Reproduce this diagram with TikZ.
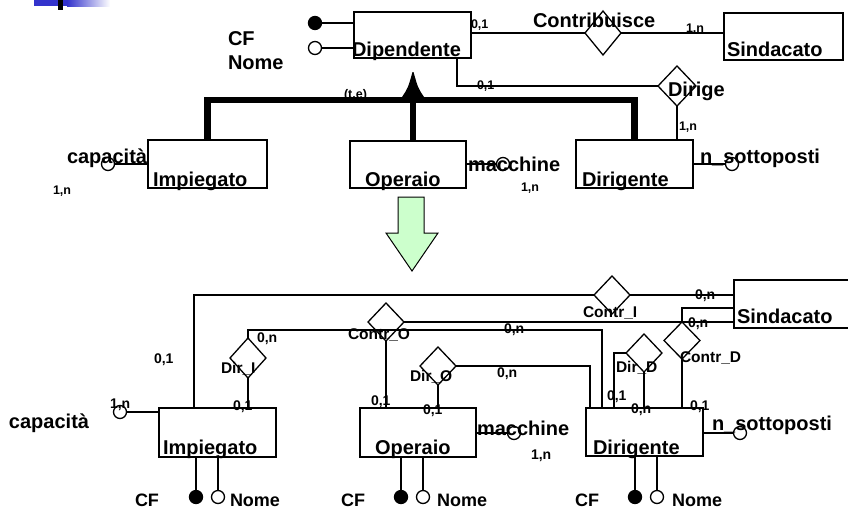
\documentclass[tikz,border=0pt]{standalone}
\usepackage{fontspec}
\setmainfont{Liberation Sans}
\usetikzlibrary{shapes.geometric,calc}
\definecolor{barblue}{RGB}{51,51,204}
\definecolor{arrowgreen}{RGB}{204,255,204}
\begin{document}
\begin{tikzpicture}[x=1pt,y=-1pt,line width=1.3pt,
  entity/.style={draw,rectangle,inner sep=0pt,outer sep=0pt},
  rel/.style={draw,diamond,inner sep=0pt,outer sep=0pt},
  keyattr/.style={draw,fill=black,circle,minimum size=13pt,inner sep=0pt,outer sep=0pt},
  attr/.style={draw,fill=white,circle,minimum size=13pt,inner sep=0pt,outer sep=0pt},
  lbl/.style={inner sep=0pt,outer sep=0pt,anchor=base west,font=\fontsize{20}{24}\selectfont\bfseries},
  idlbl/.style={lbl,font=\fontsize{18}{22}\selectfont\bfseries},
  rlbl/.style={lbl,font=\fontsize{15.5}{18}\selectfont\bfseries},
  card/.style={lbl,font=\fontsize{12.5}{15}\selectfont\bfseries},
  cardB/.style={lbl,font=\fontsize{14}{16}\selectfont\bfseries},
  isa/.style={line width=6.5pt,line join=miter}]
\useasboundingbox (0,0) rectangle (848,509);

% title bar ornament
\fill[barblue] (34,0) rectangle (67,6);
\shade[left color=barblue,right color=white] (67,0) rectangle (110,6);
\fill[black] (58,0) rectangle (63,10);

% ---------------- schema with generalization ----------------
\node[entity,minimum width=117pt,minimum height=46pt] (dipT) at (412.5,35) {};
\node[entity,minimum width=119pt,minimum height=47pt] (sinT) at (783.5,36.5) {};
\node[entity,minimum width=119pt,minimum height=48pt] (impT) at (207.5,164) {};
\node[entity,minimum width=116pt,minimum height=47pt] (opT) at (408,164.5) {};
\node[entity,minimum width=117pt,minimum height=48pt] (dirT) at (634.5,164) {};

\node[rel,minimum width=36pt,minimum height=44pt] (contr) at (603,33) {};
\node[rel,minimum width=38pt,minimum height=40pt] (dirige) at (677,86) {};

\node[keyattr] (kCF) at (315,23) {};
\node[attr] (aNome) at (315,48) {};
\node[attr] (aCapT) at (108,164) {};
\node[attr] (aMacT) at (503,164) {};
\node[attr] (aSotT) at (732,164) {};

\draw (kCF.east) -- (kCF.east -| dipT.west);
\draw (aNome.east) -- (aNome.east -| dipT.west);
\draw (aCapT.east) -- (aCapT.east -| impT.west);
\draw (aMacT.west) -- (aMacT.west -| opT.east);
\draw (aSotT.west) -- (aSotT.west -| dirT.east);

\draw (contr.west -| dipT.east) -- (contr.west);
\draw (contr.east) -- (contr.east -| sinT.west);
\draw ($(dipT.south west)+(103,0)$) |- (dirige.west);
\draw (dirige.south) -- (dirige.south |- dirT.north);

\node[card] (te) at (344,98) {(t,e)};

% generalization (total, exclusive)
\coordinate (hub) at (413,100);
\draw[isa] (impT.north) |- (hub) -| (dirT.north);
\draw[isa] ($(opT.north)+(5,0)$) -- (hub) -- ++(0,-4);
\fill ($(hub)+(-11,-3)$) .. controls ($(hub)+(-5,-12)$) .. ($(hub)+(-0.5,-28)$)
  -- ($(hub)+(0.5,-28)$) .. controls ($(hub)+(5,-12)$) .. ($(hub)+(11,-3)$) -- cycle;

\node[lbl] (tDip) at (352,56) {Dipendente};
\node[lbl] (tCF) at (228,45) {CF};
\node[lbl] (tNome) at (228,69) {Nome};
\node[card] (c1) at (471,28) {0,1};
\node[lbl] (tContr) at (533,27.5) {Contribuisce};
\node[card] (c2) at (686,32) {1,n};
\node[lbl] (tSin) at (727,56) {Sindacato};
\node[card] (c3) at (477,89) {0,1};
\node[lbl] (tDirige) at (668,96) {Dirige};
\node[card] (c4) at (679,130) {1,n};
\node[lbl] (tImp) at (153,186) {Impiegato};
\node[lbl] (tCap) at (67,163) {capacità};
\node[card] (c5) at (53,194) {1,n};
\node[lbl] (tOp) at (365,186) {Operaio};
\node[lbl] (tMac) at (468,171) {macchine};
\node[card] (c6) at (521,191) {1,n};
\node[lbl] (tDir) at (582,186) {Dirigente};
\node[lbl] (tSot) at (700,163) {n\_sottoposti};

% transformation arrow
\draw[fill=arrowgreen,line width=1pt] (398,197) -- (424,197) -- (424,233) -- (438,233)
  -- (412,271) -- (386,233) -- (398,233) -- cycle;

% ---------------- restructured schema ----------------
\node[entity,minimum width=117pt,minimum height=49pt] (impB) at (217.5,432.5) {};
\node[entity,minimum width=116pt,minimum height=49pt] (opB) at (418,432.5) {};
\node[entity,minimum width=117pt,minimum height=48pt] (dirB) at (644.5,432) {};
\node[entity,minimum width=126pt,minimum height=48pt] (sinB) at (797,304) {};

\node[rel,minimum width=36pt,minimum height=38pt] (ctrI) at (612,295) {};
\node[rel,minimum width=36pt,minimum height=40pt] (dirI) at (248,358) {};
\node[rel,minimum width=36pt,minimum height=38pt] (ctrO) at (386,322) {};
\node[rel,minimum width=36pt,minimum height=38pt] (dirO) at (438,366) {};
\node[rel,minimum width=36pt,minimum height=38pt] (dirD) at (644,353) {};
\node[rel,minimum width=36pt,minimum height=37pt] (ctrD) at (682,340.5) {};

% Contr_I
\draw ($(impB.north west)+(35,0)$) |- (ctrI.west);
\draw (ctrI.east) -- (ctrI.east -| sinB.west);
% Dir_I
\draw (dirI.south) -- (dirI.south |- impB.north);
\draw (dirI.north) -- ++(0,-8) -| ($(dirB.north west)+(16,0)$);
% Contr_O
\draw (ctrO.south) -- (ctrO.south |- opB.north);
\draw (ctrO.east) -- (ctrO.east -| sinB.west);
% Dir_O
\draw (dirO.south) -- (dirO.south |- opB.north);
\draw (dirO.east) -| ($(dirB.north west)+(4,0)$);
% Dir_D
\draw (dirD.west) -| ($(dirB.north west)+(28,0)$);
\draw (dirD.south) -- (dirD.south |- dirB.north);
% Contr_D
\draw (ctrD.north) |- ($(sinB.west)+(0,4)$);
\draw (ctrD.south) -- (ctrD.south |- dirB.north);

% attributes
\node[attr] (aCapB) at (120,412) {};
\node[attr] (aMacB) at (514,433) {};
\node[attr] (aSotB) at (740,433) {};
\draw (aCapB.east) -- (aCapB.east -| impB.west);
\draw (aMacB.west) -- (aMacB.west -| opB.east);
\draw (aSotB.west) -- (aSotB.west -| dirB.east);

\node[keyattr] (kI) at (196,497) {};
\node[attr] (nI) at (218,497) {};
\node[keyattr] (kO) at (401,497) {};
\node[attr] (nO) at (423,497) {};
\node[keyattr] (kD) at (635,497) {};
\node[attr] (nD) at (657,497) {};
\draw (kI.north) -- (kI.north |- impB.south);
\draw (nI.north) -- (nI.north |- impB.south);
\draw (kO.north) -- (kO.north |- opB.south);
\draw (nO.north) -- (nO.north |- opB.south);
\draw (kD.north) -- (kD.north |- dirB.south);
\draw (nD.north) -- (nD.north |- dirB.south);

% labels
\node[lbl] (bImp) at (163,454) {Impiegato};
\node[lbl] (bOp) at (375,454) {Operaio};
\node[lbl] (bDir) at (593,454) {Dirigente};
\node[lbl] (bSin) at (737,323) {Sindacato};
\node[lbl] (bCap) at (9,428) {capacità};
\node[lbl] (bMac) at (477,435) {macchine};
\node[lbl] (bSot) at (712,430) {n\_sottoposti};

\node[idlbl] (bCF1) at (135,506) {CF};
\node[idlbl] (bNo1) at (230,506) {Nome};
\node[idlbl] (bCF2) at (341,506) {CF};
\node[idlbl] (bNo2) at (437,506) {Nome};
\node[idlbl] (bCF3) at (575,506) {CF};
\node[idlbl] (bNo3) at (672,506) {Nome};

\node[rlbl] (lCI) at (583,317) {Contr\_I};
\node[rlbl] (lDI) at (221,373) {Dir\_I};
\node[rlbl] (lCO) at (348,339) {Contr\_O};
\node[rlbl] (lDO) at (410,381) {Dir\_O};
\node[rlbl] (lDD) at (616,372) {Dir\_D};
\node[rlbl] (lCD) at (680,362) {Contr\_D};

\node[cardB] (d1) at (695,299) {0,n};
\node[cardB] (d2) at (154,363) {0,1};
\node[cardB] (d3) at (257,342) {0,n};
\node[cardB] (d4) at (233,410) {0,1};
\node[cardB] (d5) at (371,405) {0,1};
\node[cardB] (d6) at (423,414) {0,1};
\node[cardB] (d7) at (497,377) {0,n};
\node[cardB] (d8) at (504,333) {0,n};
\node[cardB] (d9) at (688,327) {0,n};
\node[cardB] (d10) at (607,400) {0,1};
\node[cardB] (d11) at (631,413) {0,n};
\node[cardB] (d12) at (690,410) {0,1};
\node[cardB] (d13) at (531,459) {1,n};
\node[cardB] (d14) at (110,408) {1,n};
\end{tikzpicture}
\end{document}
